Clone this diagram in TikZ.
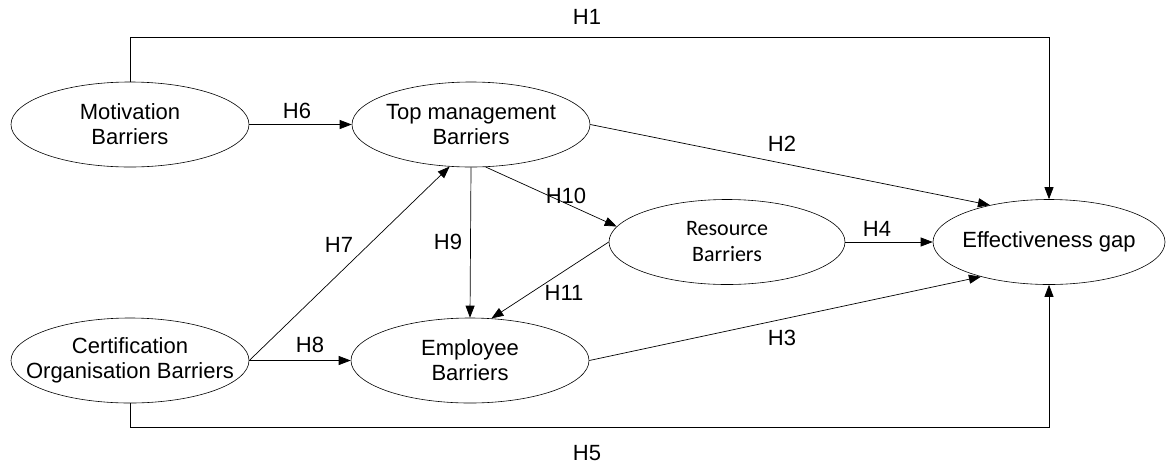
\documentclass[tikz,border=0pt]{standalone}
\usepackage{fontspec}
\setmainfont{Liberation Sans}
\newfontfamily\calfont{Carlito}
\usetikzlibrary{shapes.geometric,arrows.meta}
\begin{document}
\begin{tikzpicture}[x=1pt,y=-1pt,
  barrier/.style={draw,ellipse,line width=0.6pt,inner sep=0pt,minimum height=85pt},
  btext/.style={label={[align=center,font=\fontsize{22}{25}\selectfont]center:#1}},
  arr/.style={line width=0.7pt,-{Triangle[length=12pt,width=9pt]}},
  hlab/.style={font=\fontsize{22}{25}\selectfont,inner sep=0pt}]
\useasboundingbox (0,0) rectangle (1166,464);
\node[barrier,minimum width=238pt,btext={Motivation\\Barriers}] (mot) at (130,124.5) {};
\node[barrier,minimum width=238pt,btext={Top management\\Barriers}] (top) at (471,124.5) {};
\node[barrier,minimum width=236pt,label={[align=center,font=\calfont\fontsize{22}{26}\selectfont]center:Resource\\Barriers}] (res) at (727,242) {};
\node[barrier,minimum width=232pt,btext={Effectiveness gap}] (eff) at (1049,242) {};
\node[barrier,minimum width=238pt,btext={Certification\\Organisation Barriers}] (cert) at (130,360.5) {};
\node[barrier,minimum width=238pt,btext={Employee\\Barriers}] (emp) at (470,360.5) {};

\draw[arr] (mot.north) -- ++(0,-44) -| (eff.north);
\draw[arr] (mot.east) -- (top.west);
\draw[arr] (top.east) -- (eff.148);
\draw[arr] (top.289) -- (res.172);
\draw[arr] (top.south) -- (emp.north);
\draw[arr] (res.west) -- (emp.63);
\draw[arr] (res.east) -- (eff.west);
\draw[arr] (cert.east) -- (top.243);
\draw[arr] (cert.east) -- (emp.west);
\draw[arr] (emp.east) -- (eff.207);
\draw[arr] (cert.south) -- ++(0,24) -| (eff.south);

\node[hlab] (h1) at (587,17) {H1};
\node[hlab] (h2) at (782,144) {H2};
\node[hlab] (h3) at (782,338) {H3};
\node[hlab] (h4) at (877,229) {H4};
\node[hlab] (h5) at (587,453) {H5};
\node[hlab] (h6) at (297,111) {H6};
\node[hlab] (h7) at (339,245) {H7};
\node[hlab] (h8) at (310,345) {H8};
\node[hlab] (h9) at (448,242) {H9};
\node[hlab] (h10) at (566,196) {H10};
\node[hlab] (h11) at (564,293) {H11};
\end{tikzpicture}
\end{document}
